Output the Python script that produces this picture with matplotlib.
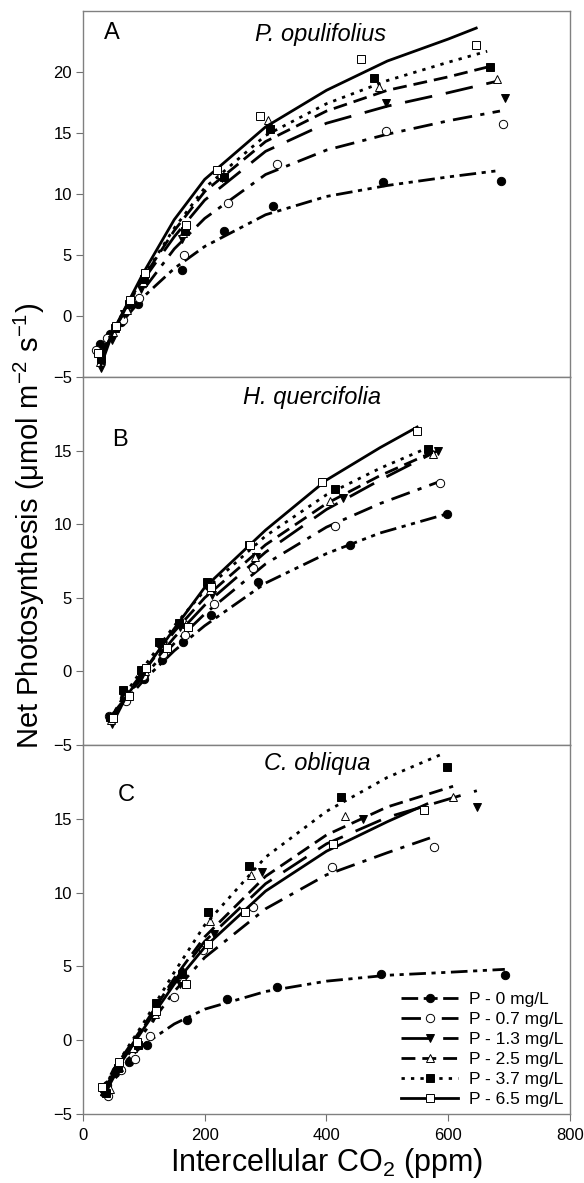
import matplotlib
matplotlib.use("Agg")
import matplotlib.pyplot as plt

plt.rcParams['font.family'] = ['Liberation Sans', 'DejaVu Sans']
plt.rcParams['mathtext.fontset'] = 'custom'
plt.rcParams['mathtext.rm'] = 'Liberation Sans'
plt.rcParams['mathtext.it'] = 'Liberation Sans:italic'

LEVELS = ["P - 0 mg/L", "P - 0.7 mg/L", "P - 1.3 mg/L", "P - 2.5 mg/L", "P - 3.7 mg/L", "P - 6.5 mg/L"]

# ---- Panel A: P. opulifolius (measured points) ----
A_pts_x = [
    [28, 45, 62, 90, 163, 232, 312, 493, 687],
    [22, 40, 65, 92, 166, 238, 319, 498, 690],
    [30, 48, 68, 95, 163, 228, 307, 498, 693],
    [28, 50, 72, 98, 165, 225, 304, 486, 680],
    [30, 52, 75, 100, 168, 232, 307, 478, 669],
    [25, 55, 78, 102, 170, 220, 291, 457, 646],
]
A_pts_y = [
    [-2.3, -1.5, -0.5, 1.0, 3.8, 7.0, 9.0, 11.0, 11.1],
    [-2.8, -1.8, -0.3, 1.5, 5.0, 9.3, 12.5, 15.2, 15.7],
    [-4.3, -2.0, 0.2, 2.2, 6.3, 11.3, 15.3, 17.5, 17.9],
    [-3.8, -1.3, 0.5, 2.8, 6.8, 11.6, 16.1, 18.8, 19.4],
    [-3.5, -1.0, 1.0, 3.0, 7.0, 11.4, 15.3, 19.5, 20.4],
    [-3.0, -0.8, 1.3, 3.5, 7.5, 12.0, 16.4, 21.1, 22.2],
]
# fitted curves
A_fit_x = [
    [30, 50, 100, 150, 200, 300, 400, 500, 600, 680],
    [30, 50, 100, 150, 200, 300, 400, 500, 600, 685],
    [30, 50, 100, 150, 200, 300, 400, 500, 600, 685],
    [30, 50, 100, 150, 200, 300, 400, 500, 600, 664],
    [30, 50, 100, 150, 200, 300, 400, 500, 600, 664],
    [30, 50, 100, 150, 200, 300, 400, 500, 600, 646],
]
A_fit_y = [
    [-3.0, -1.3, 1.6, 3.9, 5.7, 8.3, 9.8, 10.7, 11.4, 11.9],
    [-3.2, -1.2, 2.2, 5.5, 8.0, 11.6, 13.6, 14.9, 16.0, 16.8],
    [-3.5, -1.2, 3.0, 6.5, 9.5, 13.5, 15.8, 17.2, 18.3, 19.3],
    [-3.7, -1.2, 3.2, 7.0, 10.2, 14.3, 16.8, 18.5, 19.6, 20.4],
    [-3.7, -1.1, 3.3, 7.2, 10.5, 14.8, 17.4, 19.3, 20.8, 21.7],
    [-4.0, -1.2, 3.6, 7.9, 11.2, 15.5, 18.5, 20.9, 22.7, 23.6],
]

# ---- Panel B: H. quercifolia ----
B_pts_x = [
    [45, 68, 100, 130, 165, 210, 288, 439, 598],
    [43, 70, 98, 132, 168, 215, 279, 414, 586],
    [48, 66, 96, 128, 160, 212, 285, 427, 583],
    [46, 72, 102, 135, 170, 208, 282, 406, 575],
    [44, 65, 95, 125, 158, 204, 272, 414, 567],
    [50, 75, 104, 138, 172, 210, 274, 393, 549],
]
B_pts_y = [
    [-3.2, -1.8, -0.5, 0.8, 2.0, 3.8, 6.1, 8.6, 10.7],
    [-3.0, -2.0, -0.3, 1.2, 2.5, 4.6, 7.0, 9.9, 12.8],
    [-3.6, -1.7, -0.4, 1.5, 3.0, 5.2, 7.8, 11.8, 15.0],
    [-3.3, -1.5, 0.0, 1.8, 3.2, 5.5, 7.8, 11.6, 14.8],
    [-3.1, -1.3, 0.1, 2.0, 3.3, 6.1, 8.6, 12.4, 15.1],
    [-3.2, -1.7, 0.2, 1.6, 3.0, 5.7, 8.6, 12.9, 16.3],
]
B_fit_x = [
    [45, 70, 100, 150, 200, 300, 400, 488, 598],
    [43, 70, 100, 150, 200, 300, 400, 488, 586],
    [48, 70, 100, 150, 200, 300, 400, 488, 583],
    [45, 70, 100, 150, 200, 300, 400, 488, 575],
    [45, 70, 100, 150, 200, 300, 400, 488, 567],
    [45, 70, 100, 150, 200, 300, 400, 488, 549],
]
B_fit_y = [
    [-3.3, -2.0, -0.6, 1.4, 3.1, 6.0, 8.0, 9.4, 10.7],
    [-3.2, -1.8, -0.3, 1.9, 3.9, 7.3, 9.8, 11.4, 12.9],
    [-3.6, -1.8, -0.2, 2.3, 4.5, 8.1, 11.0, 13.0, 15.0],
    [-3.3, -1.6, 0.0, 2.7, 5.0, 8.6, 11.4, 13.3, 14.9],
    [-3.2, -1.5, 0.3, 3.1, 5.5, 9.2, 12.0, 13.8, 15.2],
    [-3.4, -1.8, 0.0, 2.9, 5.7, 9.6, 13.0, 15.2, 16.6],
]

# ---- Panel C: C. obliqua ----
C_pts_x = [
    [40, 52, 75, 105, 171, 236, 318, 490, 693],
    [42, 62, 85, 110, 149, 197, 280, 409, 577],
    [35, 55, 80, 115, 160, 215, 294, 460, 647],
    [45, 60, 82, 118, 165, 209, 276, 430, 608],
    [38, 58, 90, 120, 162, 205, 273, 424, 598],
    [32, 60, 88, 120, 170, 205, 266, 411, 560],
]
C_pts_y = [
    [-3.0, -2.2, -1.5, -0.3, 1.4, 2.8, 3.6, 4.5, 4.4],
    [-3.8, -2.0, -1.3, 0.3, 2.9, 6.1, 9.0, 11.7, 13.1],
    [-3.5, -2.3, -0.5, 1.5, 3.8, 7.2, 11.4, 15.0, 15.8],
    [-3.3, -1.8, -0.5, 1.8, 4.2, 8.1, 11.2, 15.2, 16.5],
    [-3.6, -1.9, -0.3, 2.5, 4.5, 8.7, 11.8, 16.5, 18.5],
    [-3.2, -1.5, -0.1, 2.0, 3.8, 6.5, 8.7, 13.3, 15.6],
]
C_fit_x = [
    [40, 60, 100, 150, 200, 300, 400, 500, 600, 693],
    [40, 60, 100, 150, 200, 300, 400, 500, 570],
    [30, 50, 100, 150, 200, 300, 400, 500, 647],
    [30, 50, 100, 150, 200, 300, 400, 500, 608],
    [30, 50, 100, 150, 200, 300, 400, 500, 591],
    [35, 50, 100, 150, 200, 300, 400, 500, 565],
]
C_fit_y = [
    [-3.0, -1.8, -0.3, 1.1, 2.1, 3.3, 4.0, 4.4, 4.6, 4.8],
    [-3.3, -1.8, 0.5, 3.3, 5.6, 8.9, 11.2, 12.7, 13.7],
    [-3.8, -2.2, 0.9, 4.0, 6.7, 10.6, 13.3, 15.1, 16.9],
    [-3.6, -2.0, 1.0, 4.2, 7.0, 11.1, 13.9, 15.8, 17.2],
    [-3.8, -2.0, 1.2, 4.6, 7.8, 12.4, 15.5, 17.8, 19.4],
    [-3.6, -2.3, 0.8, 3.8, 6.3, 10.1, 12.8, 14.8, 16.0],
]

line_styles = [
    (0, (6, 2, 1.5, 2, 1.5, 2)),
    (0, (7, 3, 1.5, 3)),
    (0, (10, 5)),
    (0, (5, 2.5)),
    (0, (1.2, 2.2)),
    '-',
]
markers = ['o', 'o', 'v', '^', 's', 's']
face = ['black', 'white', 'black', 'white', 'black', 'white']

fig = plt.figure(figsize=(5.84, 11.83), dpi=100)
left, width = 0.142, 0.834
panels = [
    (0.6813, 0.3094, A_pts_x, A_pts_y, A_fit_x, A_fit_y, (-5, 25), [-5, 0, 5, 10, 15, 20], "A", "P. opulifolius"),
    (0.3703, 0.3110, B_pts_x, B_pts_y, B_fit_x, B_fit_y, (-5, 20), [-5, 0, 5, 10, 15], "B", "H. quercifolia"),
    (0.0583, 0.3120, C_pts_x, C_pts_y, C_fit_x, C_fit_y, (-5, 20), [-5, 0, 5, 10, 15], "C", "C. obliqua"),
]
letter_pos = [(0.043, 0.94), (0.06, 0.83), (0.072, 0.865)]
title_pos = [(0.487, 0.935), (0.47, 0.943), (0.48, 0.951)]

for i, (bot, h, px, py, fx, fy, ylim, yt, letter, species) in enumerate(panels):
    ax = fig.add_axes([left, bot, width, h])
    for k in range(6):
        ax.plot(fx[k], fy[k], color='black', linestyle=line_styles[k], linewidth=2.0)
        ax.plot(px[k], py[k], linestyle='none', marker=markers[k], markersize=6,
                markerfacecolor=face[k], markeredgecolor='black', markeredgewidth=0.7)
    ax.set_xlim(0, 800)
    ax.set_ylim(*ylim)
    ax.set_yticks(yt)
    ax.tick_params(axis='y', direction='out', length=5, labelsize=12, color='#707070', pad=3)
    if i < 2:
        ax.set_xticks([])
    else:
        ax.set_xticks([0, 200, 400, 600, 800])
        ax.tick_params(axis='x', direction='out', length=5, labelsize=12, color='#707070', pad=5)
    for s in ax.spines.values():
        s.set_color('#808080')
        s.set_linewidth(1.0)
    ax.text(*letter_pos[i], letter, transform=ax.transAxes, fontsize=17, ha='left', va='center')
    ax.text(*title_pos[i], species, transform=ax.transAxes, fontsize=17, style='italic',
            ha='center', va='center')
    if i == 2:
        handles = []
        for k in range(6):
            hnd, = ax.plot([], [], color='black', linestyle=line_styles[k], linewidth=2.0,
                           marker=markers[k], markersize=6, markerfacecolor=face[k],
                           markeredgecolor='black', markeredgewidth=0.7)
            handles.append(hnd)
        ax.legend(handles, LEVELS, loc='lower right', frameon=False, fontsize=12.5,
                  handlelength=3.3, handletextpad=0.6, labelspacing=0.28,
                  borderaxespad=0.2, borderpad=0.2)
        ax.set_xlabel("Intercellular CO$_2$ (ppm)", fontsize=22, labelpad=2)

fig.text(0.05, 0.555,
         "Net Photosynthesis (\u03bcmol m$^{-2}$ s$^{-1}$)",
         rotation=90, fontsize=21, ha='center', va='center')

fig.savefig("out.png", dpi=100)
